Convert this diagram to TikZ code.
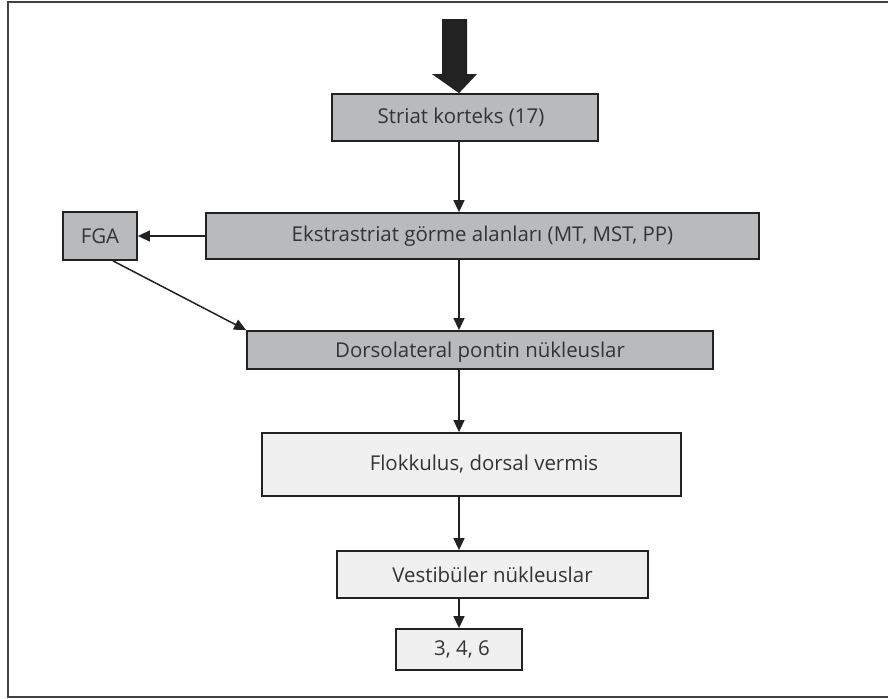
\documentclass[tikz,border=0pt]{standalone}
\usepackage{fontspec}
\setmainfont{Open Sans}
\usetikzlibrary{arrows.meta,calc}
\definecolor{boxgray}{HTML}{B9BABC}
\definecolor{boxlight}{HTML}{F0F0F0}
\definecolor{txt}{HTML}{333333}
\definecolor{edge}{HTML}{222222}
\begin{document}
\begin{tikzpicture}[x=1bp,y=-1bp,
  box/.style={draw=edge,line width=1.8bp,text=txt,inner sep=0pt,
    font=\fontsize{20.5}{23}\selectfont,anchor=center},
  darkbox/.style={box,fill=boxgray},
  lightbox/.style={box,fill=boxlight},
  conn/.style={draw=edge,line width=1.5bp,-{Triangle[length=12bp,width=11bp]}},
  frame/.style={draw=black!75,line width=1.8bp}]
\useasboundingbox (0,0) rectangle (888,699);
\draw[frame] (888,2) -- (8,2) -- (8,697) -- (888,697);
\node[darkbox,minimum width=266bp,minimum height=47bp] (striat) at (465,117.5) {\hspace*{-8bp}Striat korteks (17)};
\node[darkbox,minimum width=553bp,minimum height=46bp] (ekstra) at (482.5,236) {Ekstrastriat görme alanları (MT, MST, PP)};
\node[darkbox,minimum width=74bp,minimum height=48bp] (fga) at (100,236) {FGA};
\node[darkbox,minimum width=466bp,minimum height=38bp,text depth=-3bp] (dorso) at (480,350) {Dorsolateral pontin nükleuslar};
\node[lightbox,minimum width=419bp,minimum height=63bp] (flok) at (471.5,464.5) {\hspace*{25bp}Flokkulus, dorsal vermis};
\node[lightbox,minimum width=311bp,minimum height=47bp] (vest) at (492.5,574.5) {Vestibüler nükleuslar};
\node[lightbox,minimum width=126bp,minimum height=41bp] (nuc) at (459,649.5) {\hspace*{6bp}3, 4, 6};
\coordinate (ax) at (459,0);
% big input arrow
\fill[edge] (striat.north -| ax) -- ++(-27,-19) -- ++(10,0) -- ++(0,-55) -- ++(25,0) -- ++(0,55) -- ++(10,0) -- cycle;
\draw[conn] (striat.south -| ax) -- (ekstra.north -| ax);
\draw[conn] (ekstra.west) -- (fga.east);
\draw[conn] ($(fga.south)+(13,0)$) -- (dorso.north west);
\draw[conn] (ekstra.south -| ax) -- (dorso.north -| ax);
\draw[conn] (dorso.south -| ax) -- (flok.north -| ax);
\draw[conn] (flok.south -| ax) -- (vest.north -| ax);
\draw[conn] (vest.south -| ax) -- (nuc.north -| ax);
\end{tikzpicture}
\end{document}
